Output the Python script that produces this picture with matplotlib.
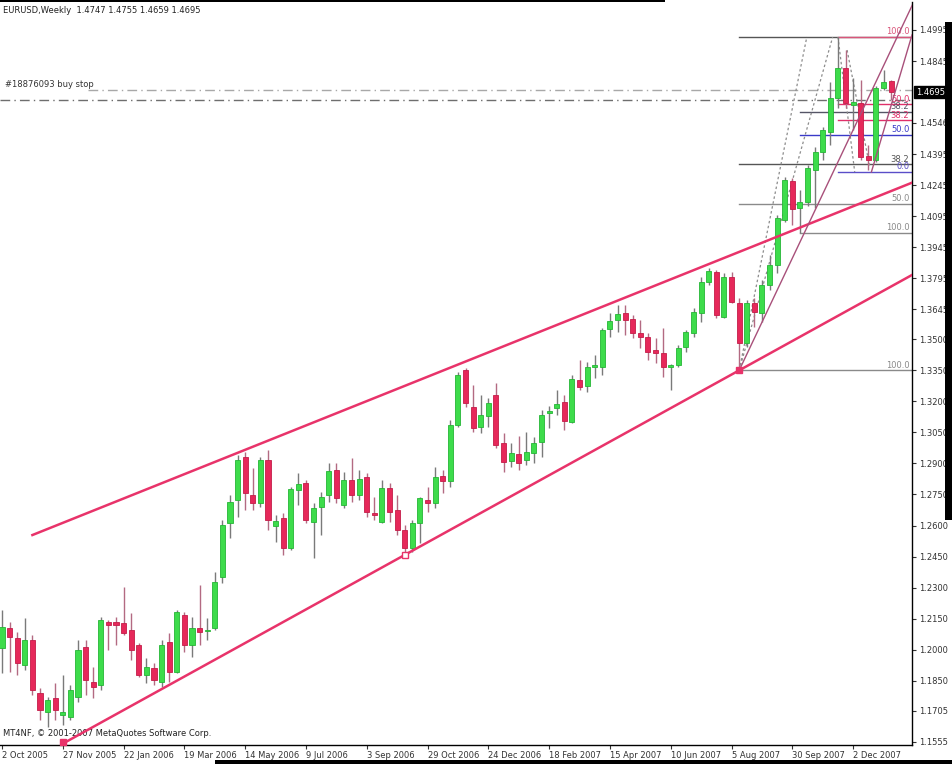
import matplotlib
matplotlib.use("Agg")
import matplotlib.pyplot as plt
import matplotlib.transforms as mtransforms
from matplotlib.patches import Rectangle

# EURUSD weekly bars, bar 0 = week of 2 Oct 2005
opens = [1.2008, 1.2104, 1.2056, 1.1925, 1.2046, 1.1791, 1.1699, 1.1767, 1.1684, 1.1675,
         1.1771, 1.2013, 1.1844, 1.1829, 1.2133, 1.2133, 1.2129, 1.2095, 1.2022, 1.1878,
         1.1912, 1.1844, 1.2037, 1.1892, 1.2167, 1.2022, 1.2104, 1.2090, 1.2104, 1.2351,
         1.2612, 1.2723, 1.2931, 1.2748, 1.2709, 1.2917, 1.2598, 1.2637, 1.2492, 1.2772,
         1.2806, 1.2617, 1.2690, 1.2748, 1.2868, 1.2699, 1.2820, 1.2748, 1.2835, 1.2661,
         1.2617, 1.2781, 1.2675, 1.2578, 1.2492, 1.2612, 1.2723, 1.2709, 1.2839, 1.2815,
         1.3086, 1.3352, 1.3173, 1.3076, 1.3129, 1.3231, 1.2999, 1.2912, 1.2946, 1.2917,
         1.2951, 1.3004, 1.3144, 1.3168, 1.3197, 1.3100, 1.3303, 1.3274, 1.3366, 1.3366,
         1.3550, 1.3593, 1.3627, 1.3598, 1.3531, 1.3511, 1.3448, 1.3434, 1.3366, 1.3376,
         1.3463, 1.3531, 1.3627, 1.3777, 1.3825, 1.3608, 1.3801, 1.3676, 1.3482, 1.3676,
         1.3627, 1.3763, 1.3859, 1.4077, 1.4265, 1.4135, 1.4164, 1.4319, 1.4405, 1.4502,
         1.4666, 1.4811, 1.4632, 1.4642, 1.4386, 1.4367, 1.4715, 1.4747]
highs = [1.2191, 1.2133, 1.2085, 1.2153, 1.2070, 1.1815, 1.1771, 1.1839, 1.1878, 1.1829,
         1.2046, 1.2046, 1.1916, 1.2158, 1.2143, 1.2158, 1.2303, 1.2177, 1.2032, 1.1960,
         1.1936, 1.2046, 1.2080, 1.2191, 1.2182, 1.2158, 1.2313, 1.2153, 1.2376, 1.2627,
         1.2748, 1.2941, 1.2955, 1.2878, 1.2931, 1.2965, 1.2651, 1.2661, 1.2786, 1.2854,
         1.2820, 1.2709, 1.2762, 1.2902, 1.2902, 1.2859, 1.2926, 1.2868, 1.2854, 1.2738,
         1.2820, 1.2806, 1.2748, 1.2603, 1.2627, 1.2738, 1.2786, 1.2883, 1.2868, 1.3110,
         1.3342, 1.3361, 1.3279, 1.3231, 1.3216, 1.3289, 1.3047, 1.2999, 1.3033, 1.3052,
         1.3028, 1.3158, 1.3178, 1.3255, 1.3231, 1.3328, 1.3400, 1.3390, 1.3424, 1.3555,
         1.3627, 1.3666, 1.3666, 1.3618, 1.3593, 1.3531, 1.3506, 1.3555, 1.3381, 1.3472,
         1.3545, 1.3651, 1.3801, 1.3845, 1.3835, 1.3821, 1.3825, 1.3700, 1.3690, 1.3700,
         1.3787, 1.3908, 1.4101, 1.4285, 1.4280, 1.4222, 1.4343, 1.4430, 1.4526, 1.4744,
         1.4961, 1.4898, 1.4763, 1.4753, 1.4439, 1.4724, 1.4802, 1.4755]
lows = [1.1887, 1.1892, 1.1877, 1.1902, 1.1781, 1.1660, 1.1626, 1.1660, 1.1636, 1.1660,
        1.1747, 1.1781, 1.1767, 1.1805, 1.1998, 1.2022, 1.2070, 1.1950, 1.1868, 1.1839,
        1.1829, 1.1820, 1.1844, 1.1887, 1.1989, 1.1965, 1.2022, 1.2046, 1.2095, 1.2322,
        1.2540, 1.2641, 1.2675, 1.2675, 1.2690, 1.2578, 1.2521, 1.2458, 1.2482, 1.2699,
        1.2612, 1.2443, 1.2554, 1.2714, 1.2709, 1.2685, 1.2714, 1.2723, 1.2641, 1.2627,
        1.2612, 1.2617, 1.2554, 1.2458, 1.2472, 1.2516, 1.2666, 1.2685, 1.2757, 1.2786,
        1.3076, 1.3173, 1.3052, 1.3047, 1.3076, 1.2975, 1.2859, 1.2883, 1.2868, 1.2893,
        1.2902, 1.2931, 1.3071, 1.3134, 1.3062, 1.3095, 1.3255, 1.3245, 1.3313, 1.3328,
        1.3511, 1.3535, 1.3521, 1.3506, 1.3458, 1.3400, 1.3386, 1.3318, 1.3255, 1.3366,
        1.3439, 1.3511, 1.3584, 1.3763, 1.3603, 1.3603, 1.3676, 1.3350, 1.3463, 1.3560,
        1.3584, 1.3738, 1.3821, 1.4067, 1.4053, 1.4014, 1.4145, 1.4135, 1.4367, 1.4439,
        1.4618, 1.4618, 1.4512, 1.4367, 1.4318, 1.4357, 1.4705, 1.4659]
closes = [1.2109, 1.2061, 1.1935, 1.2046, 1.1805, 1.1709, 1.1757, 1.1709, 1.1699, 1.1805,
          1.1998, 1.1853, 1.1820, 1.2143, 1.2119, 1.2119, 1.2080, 1.1998, 1.1878, 1.1916,
          1.1853, 1.2022, 1.1892, 1.2182, 1.2022, 1.2104, 1.2085, 1.2095, 1.2327, 1.2603,
          1.2714, 1.2917, 1.2757, 1.2709, 1.2917, 1.2627, 1.2622, 1.2492, 1.2777, 1.2801,
          1.2627, 1.2685, 1.2738, 1.2864, 1.2733, 1.2820, 1.2748, 1.2825, 1.2666, 1.2651,
          1.2781, 1.2666, 1.2578, 1.2492, 1.2612, 1.2733, 1.2709, 1.2835, 1.2815, 1.3086,
          1.3328, 1.3192, 1.3071, 1.3134, 1.3192, 1.2989, 1.2907, 1.2951, 1.2902, 1.2956,
          1.2999, 1.3134, 1.3153, 1.3187, 1.3105, 1.3308, 1.3270, 1.3366, 1.3376, 1.3545,
          1.3589, 1.3622, 1.3593, 1.3531, 1.3511, 1.3439, 1.3434, 1.3366, 1.3376, 1.3458,
          1.3535, 1.3632, 1.3777, 1.3830, 1.3618, 1.3801, 1.3680, 1.3482, 1.3676, 1.3632,
          1.3763, 1.3859, 1.4086, 1.4270, 1.4130, 1.4164, 1.4328, 1.4405, 1.4512, 1.4666,
          1.4811, 1.4642, 1.4647, 1.4381, 1.4367, 1.4715, 1.4744, 1.4695]

date_bars = [0, 8, 16, 24, 32, 40, 48, 56, 64, 72, 80, 88, 96, 104, 112]
date_labels = ["2 Oct 2005", "27 Nov 2005", "22 Jan 2006", "19 Mar 2006", "14 May 2006",
               "9 Jul 2006", "3 Sep 2006", "29 Oct 2006", "24 Dec 2006", "18 Feb 2007",
               "15 Apr 2007", "10 Jun 2007", "5 Aug 2007", "30 Sep 2007", "2 Dec 2007"]
price_ticks = [1.4995, 1.4845, 1.4546, 1.4395, 1.4245, 1.4095, 1.3945, 1.3795, 1.3645,
               1.3500, 1.3350, 1.3200, 1.3050, 1.2900, 1.2750, 1.2600, 1.2450, 1.2300,
               1.2150, 1.2000, 1.1850, 1.1705, 1.1555]
price_labels = ["1.4995", "1.4845", "1.4546", "1.4395", "1.4245", "1.4095", "1.3945",
                "1.3795", "1.3645", "1.3500", "1.3350", "1.3200", "1.3050", "1.2900",
                "1.2750", "1.2600", "1.2450", "1.2300", "1.2150", "1.2000", "1.1850",
                "1.1705", "1.1555"]
last_price = 1.4695
buy_stop = 1.4705
order_line2 = 1.4657

# channel anchors (bar, price)
upper_channel = [(4, 1.2554), (81, 1.3687)]
lower_channel = [(53, 1.2458), (97, 1.3350)]

# fibo retracements: swing low bar/price -> high 1.4961
swing_high = 1.4961
fib1_low, fib1_bar = 1.3350, 97
fib2_low, fib2_bar = 1.4014, 105
fib3_low, fib3_bar = 1.4309, 110

X0, X1 = -0.263, 119.74
Y0, Y1 = 1.15392, 1.51303

fig = plt.figure(figsize=(9.52, 7.64), dpi=100)
ax = fig.add_axes([0, 19 / 764, 912 / 952, 743 / 764])
ax.set_xlim(X0, X1)
ax.set_ylim(Y0, Y1)

green, green_edge = "#3ddc4b", "#25b536"
red, red_edge = "#e6285a", "#c41c48"

# candles
for i in range(len(opens)):
    o, h, l, c = opens[i], highs[i], lows[i], closes[i]
    up = c >= o
    ax.vlines(i, l, h, color="#7a7a7a" if up else "#b36a82", lw=1, zorder=3)
    bottom = min(o, c)
    height = max(abs(c - o), 0.0004)
    ax.add_patch(Rectangle((i - 0.33, bottom), 0.66, height,
                           facecolor=green if up else red,
                           edgecolor=green_edge if up else red_edge, lw=0.6, zorder=4))


def line_y(pts, x):
    (xa, ya), (xb, yb) = pts
    return ya + (yb - ya) * (x - xa) / (xb - xa)


# channel lines
cc = "#e8336a"
ax.plot([upper_channel[0][0], X1], [upper_channel[0][1], line_y(upper_channel, X1)],
        color=cc, lw=1.8, zorder=5)
ax.plot([8, X1], [line_y(lower_channel, 8), line_y(lower_channel, X1)],
        color=cc, lw=1.8, zorder=5)

# order lines
ax.plot([11.3, X1], [buy_stop, buy_stop], color="#a8a8a8", lw=1, ls=(0, (7, 3, 1, 3)), zorder=2)
ax.plot([X0, X1], [order_line2, order_line2], color="#6e6e6e", lw=1, ls=(0, (7, 3, 1, 3)), zorder=2)
ax.text(0.4, buy_stop + 0.0003, "#18876093 buy stop", fontsize=6, color="#333333",
        va="bottom", ha="left")

# fibo levels
fibs = [
    (fib1_bar, fib1_low, 0.0, None, "#555555"),
    (fib1_bar, fib1_low, 0.382, "38.2", "#555555"),
    (fib1_bar, fib1_low, 0.5, "50.0", "#8a8a8a"),
    (fib1_bar, fib1_low, 1.0, "100.0", "#8a8a8a"),
    (fib2_bar, fib2_low, 0.382, "38.2", "#555566"),
    (fib2_bar, fib2_low, 0.5, "50.0", "#3a3ac8"),
    (fib2_bar, fib2_low, 1.0, "100.0", "#8a8a8a"),
    (fib3_bar, fib3_low, 1.0, "100.0", "#d9557a"),
    (fib3_bar, fib3_low, 0.5, "50.0", "#e0306a"),
    (fib3_bar, fib3_low, 0.382, "38.2", "#e0306a"),
    (fib3_bar, fib3_low, 0.0, "0.0", "#5a4ec8"),
]
for bar, low, ret, lab, col in fibs:
    lvl = swing_high - (swing_high - low) * ret if ret < 1 else low
    if lab == "100.0" and bar == fib3_bar:
        lvl = swing_high
    if lab == "0.0":
        lvl = low
    if bar == fib3_bar and lab in ("50.0", "38.2"):
        lvl = low + (swing_high - low) * float(lab) / 100
    ax.plot([bar, X1], [lvl, lvl], color=col, lw=1, zorder=2)
    if lab:
        ax.text(119.4, lvl + 0.0004, lab, fontsize=6, color=col, ha="right", va="bottom")

# thin trend lines from the August low and the December low
tl = "#a8507a"
ax.plot([97, 121], [1.3350, 1.3350 + 24 * 0.00775], color=tl, lw=1, zorder=5)
ax.plot([114.4, X1], [1.4309, 1.4971], color=tl, lw=1, zorder=5)

# dotted fan lines
dc = "#8c8c8c"
ax.plot([97, 105.9], [1.3350, 1.4961], color=dc, lw=0.9, ls=(0, (2, 2)), zorder=2)
ax.plot([97, 109.3], [1.3350, 1.4961], color=dc, lw=0.9, ls=(0, (2, 2)), zorder=2)
ax.plot([110, 112.2], [1.4961, 1.4309], color=dc, lw=0.9, ls=(0, (2, 2)), zorder=2)
ax.plot([111.2, 114.2], [1.4898, 1.4330], color=dc, lw=0.9, ls=(0, (2, 2)), zorder=2)

# anchor markers
ax.plot(53, 1.2458, marker="s", ms=4, mfc="white", mec=cc, mew=1, zorder=6)
ax.plot(97, 1.3350, marker="s", ms=4, mfc=cc, mec=cc, zorder=6)
ax.plot(8, line_y(lower_channel, 8) + 0.0008, marker="s", ms=4, mfc=cc, mec=cc, zorder=6,
        clip_on=False)

# axes styling
for s in ("top", "left"):
    ax.spines[s].set_visible(False)
for s in ("right", "bottom"):
    ax.spines[s].set_color("black")
    ax.spines[s].set_linewidth(1)

ax.yaxis.tick_right()
ax.set_yticks(price_ticks)
ax.set_yticklabels(price_labels)
ax.tick_params(axis="y", direction="out", length=3, pad=2, labelsize=6,
               colors="#333333", width=0.8)
ax.set_xticks(date_bars)
ax.set_xticklabels(date_labels, ha="left")
ax.tick_params(axis="x", direction="out", length=3, pad=1.5, labelsize=6,
               colors="#333333", width=0.8)

trans = mtransforms.blended_transform_factory(ax.transAxes, ax.transData)
ax.text(1.004, last_price, "1.4695", transform=trans, fontsize=6, color="white",
        ha="left", va="center",
        bbox=dict(boxstyle="square,pad=0.15", fc="black", ec="black"))

ax.text(0.003, 0.994, "EURUSD,Weekly  1.4747 1.4755 1.4659 1.4695", transform=ax.transAxes,
        fontsize=6, color="#222222", ha="left", va="top")
ax.text(0.003, 0.01, "MT4NF, \u00a9 2001-2007 MetaQuotes Software Corp.",
        transform=ax.transAxes, fontsize=6, color="#222222", ha="left", va="bottom")

# screenshot borders
fig.patches.append(Rectangle((945 / 952, 244 / 764), 7 / 952, 498 / 764,
                             transform=fig.transFigure, fc="black", ec="none"))
fig.patches.append(Rectangle((215 / 952, 0), 737 / 952, 4 / 764,
                             transform=fig.transFigure, fc="black", ec="none"))
fig.patches.append(Rectangle((0, 762 / 764), 665 / 952, 2 / 764,
                             transform=fig.transFigure, fc="black", ec="none"))

fig.savefig("out.png", dpi=100)
